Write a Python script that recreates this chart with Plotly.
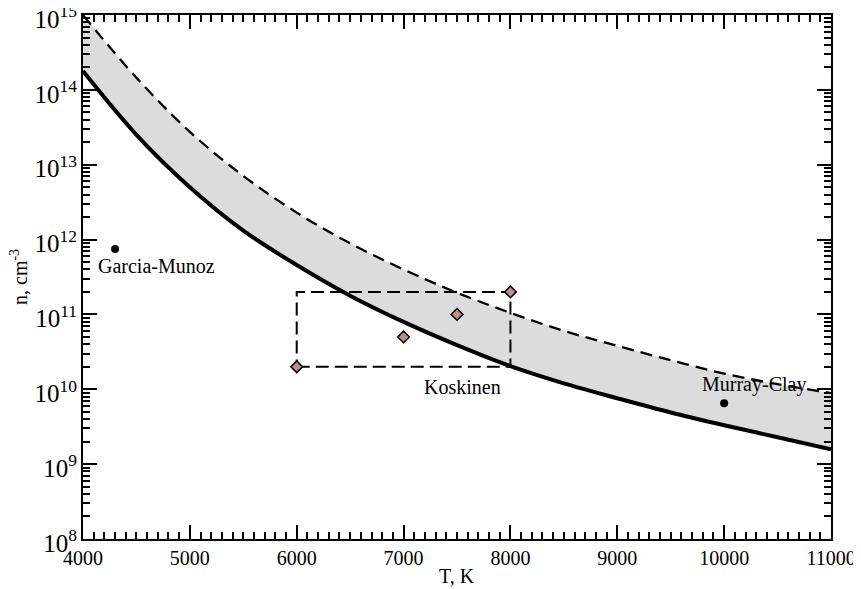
import math
import plotly.graph_objects as go

# ---- data ----
T_grid = [4000, 4500, 5000, 5500, 6000, 6500, 7000, 7500, 8000, 8500, 9000, 9500, 10000, 10500, 11000]
n_lower = [1.78e14, 2.51e13, 5.01e12, 1.32e12, 4.57e11, 1.78e11, 7.94e10, 3.89e10, 2.04e10,
           1.20e10, 7.59e9, 4.90e9, 3.31e9, 2.29e9, 1.58e9]
n_upper = [1.00e15, 1.45e14, 2.75e13, 7.08e12, 2.29e12, 8.91e11, 3.98e11, 1.95e11, 1.05e11,
           6.03e10, 3.80e10, 2.45e10, 1.62e10, 1.17e10, 8.91e9]

koskinen_T = [6000, 7000, 7500, 8000]
koskinen_n = [2e10, 5e10, 1e11, 2e11]

box_T = [6000, 8000]
box_n = [2e10, 2e11]

garcia_T = [4300]
garcia_n = [7.5e11]
murray_T = [10000]
murray_n = [6.5e9]

label_garcia = "Garcia-Munoz"
label_koskinen = "Koskinen"
label_murray = "Murray-Clay"

FONT = "Liberation Serif"

fig = go.Figure()

# lower bound (invisible, base for fill)
fig.add_trace(go.Scatter(x=T_grid, y=n_lower, mode="lines", line=dict(width=0, shape="spline"),
                         showlegend=False, hoverinfo="skip"))
# upper bound dashed with fill
fig.add_trace(go.Scatter(x=T_grid, y=n_upper, mode="lines", fill="tonexty", fillcolor="#dcdcdc",
                         line=dict(color="black", width=2.3, dash="12px,7px", shape="spline"),
                         showlegend=False))
# lower bound solid on top
fig.add_trace(go.Scatter(x=T_grid, y=n_lower, mode="lines",
                         line=dict(color="black", width=4, shape="spline"), showlegend=False))

# Koskinen box
bx = [box_T[0], box_T[1], box_T[1], box_T[0], box_T[0]]
by = [box_n[0], box_n[0], box_n[1], box_n[1], box_n[0]]
fig.add_trace(go.Scatter(x=bx, y=by, mode="lines",
                         line=dict(color="black", width=2, dash="13px,6px"), showlegend=False))

# Koskinen diamonds
fig.add_trace(go.Scatter(x=koskinen_T, y=koskinen_n, mode="markers",
                         marker=dict(symbol="diamond", size=9, color="#bc8f8f",
                                     line=dict(color="black", width=1.5)), showlegend=False))

# Garcia-Munoz and Murray-Clay points
fig.add_trace(go.Scatter(x=garcia_T + murray_T, y=garcia_n + murray_n, mode="markers",
                         marker=dict(symbol="circle", size=8, color="black"), showlegend=False))

ann_font = dict(family=FONT, size=20, color="black")
fig.add_annotation(x=garcia_T[0], y=math.log10(garcia_n[0]),
                   text=label_garcia, showarrow=False, xshift=41, yshift=-17, font=ann_font)
fig.add_annotation(x=box_T[1], y=math.log10(box_n[0]), text=label_koskinen,
                   showarrow=False, xshift=-48, yshift=-20, font=ann_font)
fig.add_annotation(x=murray_T[0], y=math.log10(murray_n[0]), text=label_murray,
                   showarrow=False, xshift=30, yshift=19, font=ann_font)

# axis titles
fig.add_annotation(xref="paper", yref="paper", x=0.5, y=0, yshift=-37, text="T, K",
                   showarrow=False, font=ann_font, yanchor="middle")
fig.add_annotation(xref="paper", yref="paper", x=0, y=0.5, xshift=-64,
                   text="n, cm<sup style='font-size:14px'>-3</sup>",
                   showarrow=False, font=ann_font, textangle=-90, xanchor="center")

axis_common = dict(showline=True, linecolor="black", linewidth=2, mirror="allticks",
                   ticks="inside", tickcolor="black", tickwidth=2, ticklen=14,
                   showgrid=False, zeroline=False, automargin=False,
                   ticklabeloverflow="allow",
                   tickfont=dict(family=FONT, size=20, color="black"))

fig.update_xaxes(range=[4000, 11000], tickmode="linear", tick0=4000, dtick=1000,
                 tickformat="d",
                 minor=dict(ticks="inside", ticklen=7, tickwidth=1.5, tickcolor="black",
                            dtick=100, showgrid=False),
                 **axis_common)
fig.update_yaxes(type="log", range=[8, 15], tickmode="linear", tick0=0, dtick=1,
                 exponentformat="power", ticklabelshift=4,
                 minor=dict(ticks="inside", ticklen=7, tickwidth=1.5, tickcolor="black",
                            dtick="D1", showgrid=False),
                 **axis_common)

# the page adds an 8px body margin, so the margins are shifted to compensate
fig.update_layout(width=861, height=589, margin=dict(l=75, r=38, t=7, b=58),
                  plot_bgcolor="white", paper_bgcolor="white", showlegend=False,
                  font=dict(family=FONT, color="black"))

fig.write_html("out.html")
